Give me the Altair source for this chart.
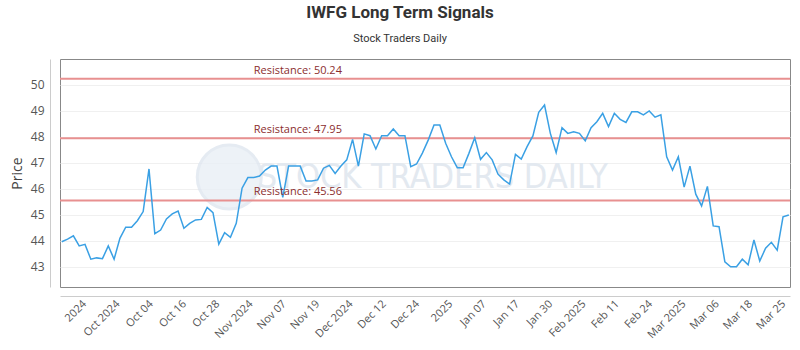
import altair as alt
import pandas as pd

prices = [
    43.97, 44.07, 44.20, 43.81, 43.87, 43.30, 43.35, 43.32, 43.81, 43.30,
    44.10, 44.53, 44.53, 44.78, 45.13, 46.77, 44.28, 44.42, 44.85, 45.04,
    45.15, 44.49, 44.68, 44.81, 44.83, 45.29, 45.09, 43.88, 44.32, 44.14,
    44.68, 46.03, 46.44, 46.44, 46.50, 46.73, 46.88, 46.88, 45.68, 46.88,
    46.88, 46.88, 46.31, 46.31, 46.35, 46.80, 46.91, 46.60, 46.88, 47.12,
    47.91, 46.88, 48.12, 48.05, 47.54, 48.05, 48.05, 48.31, 48.05, 48.05,
    46.86, 46.96, 47.38, 47.88, 48.46, 48.46, 47.76, 47.24, 46.82, 46.82,
    47.37, 47.97, 47.14, 47.40, 47.12, 46.57, 46.35, 46.19, 47.33, 47.15,
    47.63, 48.04, 48.95, 49.23, 48.14, 47.40, 48.36, 48.14, 48.20, 48.14,
    47.85, 48.36, 48.59, 48.91, 48.40, 48.91, 48.68, 48.56, 48.97, 48.97,
    48.85, 49.00, 48.76, 48.85, 47.24, 46.73, 47.24, 46.07, 46.88, 45.80,
    45.35, 46.10, 44.58, 44.55, 43.20, 43.01, 43.01, 43.30, 43.08, 44.04,
    43.23, 43.72, 43.95, 43.65, 44.93, 45.00,
]

tick_labels = [
    "2024", "Oct 2024", "Oct 04", "Oct 16", "Oct 28", "Nov 2024", "Nov 07",
    "Nov 19", "Dec 2024", "Dec 12", "Dec 24", "2025", "Jan 07", "Jan 17",
    "Jan 30", "Feb 2025", "Feb 11", "Feb 24", "Mar 2025", "Mar 06",
    "Mar 18", "Mar 25",
]

resistance_levels = [50.24, 47.95, 45.56]
resistance_labels = ["Resistance: 50.24", "Resistance: 47.95", "Resistance: 45.56"]

n = len(prices)
df = pd.DataFrame({"i": list(range(n)), "price": prices})

first_tick, last_tick = 3.9, 124.1
step = (last_tick - first_tick) / (len(tick_labels) - 1)
tick_vals = [round(first_tick + k * step, 3) for k in range(len(tick_labels))]
expr_parts = " : ".join(
    [f"abs(datum.value - {v}) < 0.01 ? '{t}'" for v, t in zip(tick_vals, tick_labels)]
) + " : ''"

xdom = [-0.3, 125.2]
ydom = [42.23, 51.0]

base_font = "Open Sans"

X = alt.X(
    "i:Q", scale=alt.Scale(domain=xdom, nice=False, zero=False), title=None,
    axis=alt.Axis(
        values=tick_vals, labelExpr=expr_parts, labelAngle=-45, labelAlign="right",
        labelBaseline="middle", ticks=False, grid=False, domain=True,
        domainColor="#cccccc", offset=9, labelFont=base_font, labelFontSize=11,
        labelColor="#555555", labelPadding=6, labelOverlap=False, labelBound=False,
    ),
)
Y = alt.Y(
    "price:Q", scale=alt.Scale(domain=ydom, nice=False, zero=False), title="Price",
    axis=alt.Axis(
        values=[43, 44, 45, 46, 47, 48, 49, 50], ticks=False, grid=True,
        gridColor="#f0f0f0", domain=True, domainColor="#cccccc", offset=10,
        labelFont=base_font, labelFontSize=12, labelColor="#555555", labelPadding=6,
        labelOverlap=False,
        titleFont=base_font, titleFontSize=14, titleFontWeight="normal",
        titleColor="#444444", titlePadding=6,
    ),
)

line = alt.Chart(df).mark_line(color="#3aa0e4", strokeWidth=1.5).encode(x=X, y=Y)

# watermark
wm_df = pd.DataFrame({"i": [28.8], "price": [46.46]})
wm_circle = alt.Chart(wm_df).mark_point(
    shape="circle", size=4100, filled=True, color="#e9eff6", opacity=0.8,
    stroke="#dfe7f0", strokeWidth=3,
).encode(x=X, y=Y)

wm_tdf = pd.DataFrame({"i": [63.8], "price": [46.42], "t": ["STOCK TRADERS DAILY"]})
wm_text = alt.Chart(wm_tdf).mark_text(
    font="DejaVu Sans Condensed", fontSize=34, color="#e3e9f0", align="center", baseline="middle",
).encode(x=X, y=Y, text="t:N")

res_df = pd.DataFrame({"price": resistance_levels, "label": resistance_labels, "i": [33.0] * 3})

rules = alt.Chart(res_df).mark_rule(color="#e89090", strokeWidth=2).encode(y=Y)
res_text = alt.Chart(res_df).mark_text(
    align="left", baseline="bottom", dy=-3, font=base_font, fontSize=11, color="#8b2e2e"
).encode(x=X, y=Y, text="label:N")

chart = alt.layer(wm_circle, wm_text, rules, line, res_text).properties(
    width=730,
    height=228,
    title=alt.TitleParams(
        text="IWFG Long Term Signals",
        subtitle="Stock Traders Daily",
        font="Roboto", fontSize=17, fontWeight="bold", color="#333333",
        subtitleFont="Roboto", subtitleFontSize=11, subtitleColor="#333333",
        subtitlePadding=11, anchor="middle", dx=-25, offset=14,
    ),
    autosize=alt.AutoSizeParams(type="none"),
    padding={"left": 60, "top": 59, "right": 10, "bottom": 63},
).configure_view(stroke="#888888", strokeWidth=1)

chart.save("out.html", embed_options={"renderer": "svg", "actions": False})
